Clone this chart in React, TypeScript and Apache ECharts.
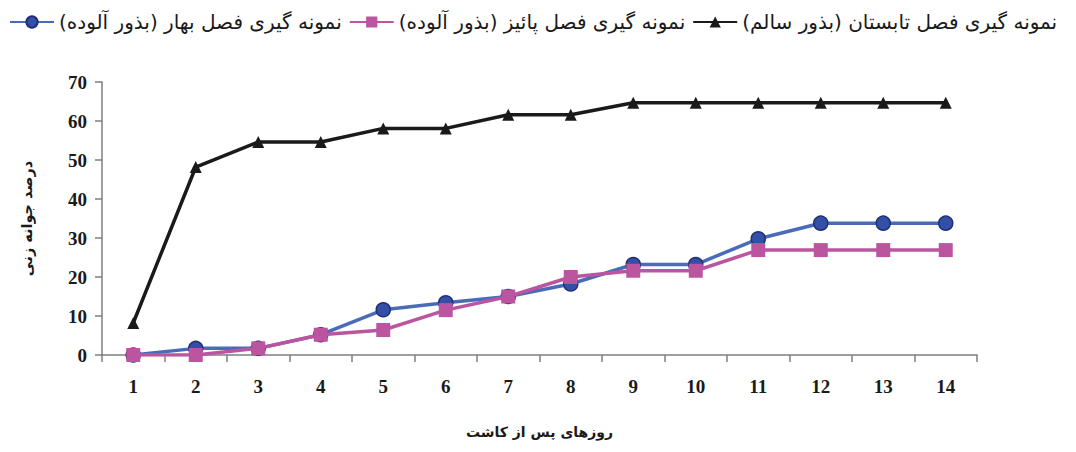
import React, { useEffect, useRef } from "react";
import * as echarts from "echarts";

const days = ["1", "2", "3", "4", "5", "6", "7", "8", "9", "10", "11", "12", "13", "14"];
const springInfected = [0, 1.7, 1.7, 5.2, 11.6, 13.4, 15, 18.2, 23.2, 23.2, 29.8, 33.8, 33.8, 33.8];
const autumnInfected = [0, 0, 1.7, 5.2, 6.4, 11.5, 15, 20, 21.6, 21.6, 26.9, 26.9, 26.9, 26.9];
const summerHealthy = [8.2, 48.2, 54.6, 54.6, 58.1, 58.1, 61.6, 61.6, 64.7, 64.7, 64.7, 64.7, 64.7, 64.7];

const springName = "نمونه گیری فصل بهار (بذور آلوده)";
const autumnName = "نمونه گیری فصل پائیز (بذور آلوده)";
const summerName = "نمونه گیری فصل تابستان (بذور سالم)";
const xTitle = "روزهای پس از کاشت";
const yTitle = "درصد جوانه زنی";

export default function App() {
  const ref = useRef<HTMLDivElement>(null);
  useEffect(() => {
    if (!ref.current) return;
    const chart = echarts.init(ref.current, null, { renderer: "svg" });
    const axisFont = {
      fontFamily: "Liberation Serif",
      fontWeight: "bold" as const,
      fontSize: 19,
      color: "#1a1a1a",
    };
    chart.setOption({
      animation: false,
      backgroundColor: "#ffffff",
      legend: {
        top: -1,
        left: -4,
        width: 1200,
        itemWidth: 44,
        itemHeight: 14,
        itemGap: 7,
        textStyle: { fontFamily: "DejaVu Sans", fontSize: 20, color: "#1a1a1a" },
        data: [springName, autumnName, summerName],
      },
      grid: { left: 94, right: 91, top: 74, bottom: 80, containLabel: false },
      xAxis: {
        type: "category",
        data: days,
        boundaryGap: true,
        name: xTitle,
        nameLocation: "middle",
        nameGap: 70,
        nameTextStyle: { fontFamily: "DejaVu Sans", fontWeight: "bold", fontSize: 14, color: "#1a1a1a" },
        axisLine: { lineStyle: { color: "#7f7f7f", width: 1.5 } },
        axisTick: { show: true, length: 7, lineStyle: { color: "#7f7f7f", width: 1.5 } },
        axisLabel: { ...axisFont, margin: 22 },
        splitLine: { show: false },
      },
      yAxis: {
        type: "value",
        min: 0,
        max: 70,
        interval: 10,
        name: yTitle,
        nameLocation: "middle",
        nameGap: 68,
        nameRotate: 90,
        nameTextStyle: { fontFamily: "DejaVu Sans", fontWeight: "bold", fontSize: 14.5, color: "#1a1a1a" },
        axisLine: { show: true, lineStyle: { color: "#7f7f7f", width: 1.5 } },
        axisTick: { show: true, length: 7, lineStyle: { color: "#7f7f7f", width: 1.5 } },
        axisLabel: { ...axisFont, margin: 15 },
        splitLine: { show: false },
      },
      series: [
        {
          name: springName,
          type: "line",
          data: springInfected,
          symbol: "circle",
          symbolSize: 14,
          lineStyle: { color: "#4a6cb8", width: 3.5 },
          itemStyle: { color: "#3450a6", borderColor: "#1e2f78", borderWidth: 1.5 },
          z: 3,
        },
        {
          name: autumnName,
          type: "line",
          data: autumnInfected,
          symbol: "rect",
          symbolSize: 14,
          lineStyle: { color: "#bb55a0", width: 3.5 },
          itemStyle: { color: "#bb55a0", borderWidth: 0 },
          z: 4,
        },
        {
          name: summerName,
          type: "line",
          data: summerHealthy,
          symbol: "triangle",
          symbolSize: 12,
          lineStyle: { color: "#1a1a1a", width: 3.5 },
          itemStyle: { color: "#1a1a1a", borderWidth: 0 },
          z: 5,
        },
      ],
    });
    return () => chart.dispose();
  }, []);
  return <div ref={ref} style={{ width: 1060, height: 436 }} />;
}
